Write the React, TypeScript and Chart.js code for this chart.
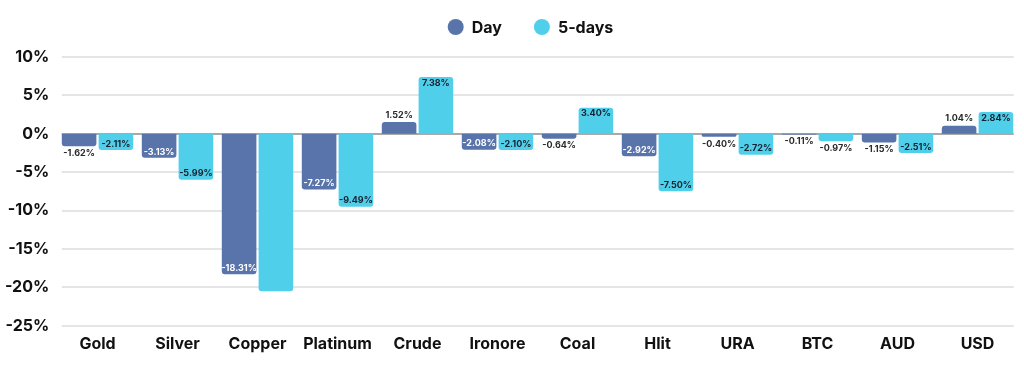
import React, { useEffect, useRef } from 'react';
import { Chart, registerables } from 'chart.js';

Chart.register(...registerables);

const categories = ['Gold', 'Silver', 'Copper', 'Platinum', 'Crude', 'Ironore', 'Coal', 'Hlit', 'URA', 'BTC', 'AUD', 'USD'];
const seriesNames = ['Day', '5-days'];
const dayValues = [-1.62, -3.13, -18.31, -7.27, 1.52, -2.08, -0.64, -2.92, -0.4, -0.11, -1.15, 1.04];
const fiveDayValues = [-2.11, -5.99, -20.5, -9.49, 7.38, -2.1, 3.4, -7.5, -2.72, -0.97, -2.51, 2.84];
const yMin = -25;
const yMax = 10;
const yStep = 5;
// value labels that are not shown in the reference: [datasetIndex, index]
const hiddenLabels = [[1, 2]];

const DAY_COLOR = '#5974aa';
const FIVE_COLOR = '#50cfea';
const FONT = 'Inter, "Open Sans", sans-serif';

const gridPlugin = {
  id: 'customGrid',
  beforeDatasetsDraw(chart: any) {
    const { ctx, chartArea, scales } = chart;
    const ys = scales.y;
    ctx.save();
    ys.ticks.forEach((t: any) => {
      const y = Math.round(ys.getPixelForValue(t.value));
      ctx.beginPath();
      ctx.strokeStyle = t.value === 0 ? '#a9a9a9' : '#dcdcdc';
      ctx.lineWidth = t.value === 0 ? 2 : 1.5;
      ctx.moveTo(chartArea.left + 4.3, y);
      ctx.lineTo(chartArea.right - 3.8, y);
      ctx.stroke();
    });
    ctx.restore();
  },
};

const valueLabelPlugin = {
  id: 'valueLabels',
  afterDatasetsDraw(chart: any) {
    const { ctx } = chart;
    ctx.save();
    ctx.font = `bold 9px ${FONT}`;
    ctx.textAlign = 'center';
    ctx.textBaseline = 'middle';
    chart.data.datasets.forEach((ds: any, di: number) => {
      const meta = chart.getDatasetMeta(di);
      meta.data.forEach((bar: any, i: number) => {
        if (hiddenLabels.some(([d, k]) => d === di && k === i)) return;
        const v = ds.data[i] as number;
        const dir = v < 0 ? 1 : -1;
        const inside = Math.abs(v) >= 2;
        const y = inside ? bar.y - dir * 6 : bar.y + dir * 7;
        ctx.fillStyle = inside ? (di === 0 ? '#ffffff' : '#16202e') : '#2a2a2a';
        ctx.fillText(`${v.toFixed(2)}%`, bar.x, y);
      });
    });
    ctx.restore();
  },
};

const legendPlugin = {
  id: 'customLegend',
  afterDraw(chart: any) {
    const { ctx, chartArea } = chart;
    const datasets = chart.data.datasets;
    ctx.save();
    ctx.font = `bold 16px ${FONT}`;
    ctx.textBaseline = 'middle';
    ctx.textAlign = 'left';
    const r = 8;
    const gapText = 8;
    const gapItem = 32;
    const widths = datasets.map((d: any) => 2 * r + gapText + ctx.measureText(d.label).width);
    const total = widths.reduce((a: number, b: number) => a + b, 0) + gapItem * (datasets.length - 1);
    let x = (chartArea.left + chartArea.right) / 2 - 7 - total / 2;
    const y = 27;
    datasets.forEach((d: any, i: number) => {
      ctx.beginPath();
      ctx.fillStyle = d.backgroundColor;
      ctx.arc(x + r, y, r, 0, Math.PI * 2);
      ctx.fill();
      ctx.fillStyle = '#111111';
      ctx.fillText(d.label, x + 2 * r + gapText, y + 1);
      x += widths[i] + gapItem;
    });
    ctx.restore();
  },
};

export default function App() {
  const ref = useRef<HTMLCanvasElement>(null);
  useEffect(() => {
    if (!ref.current) return;
    Chart.defaults.font.family = FONT;
    const chart = new Chart(ref.current, {
      type: 'bar',
      data: {
        labels: categories,
        datasets: [
          {
            label: seriesNames[0],
            data: dayValues,
            backgroundColor: DAY_COLOR,
            borderRadius: 3,
            categoryPercentage: 0.92,
            barPercentage: 0.94,
          },
          {
            label: seriesNames[1],
            data: fiveDayValues,
            backgroundColor: FIVE_COLOR,
            borderRadius: 3,
            categoryPercentage: 0.92,
            barPercentage: 0.94,
          },
        ],
      },
      options: {
        responsive: false,
        animation: false,
        devicePixelRatio: 1,
        layout: { padding: { top: 57, right: 6.5, bottom: 0, left: 0 } },
        plugins: {
          legend: { display: false },
          tooltip: { enabled: false },
        },
        scales: {
          x: {
            grid: { display: false, drawTicks: false },
            border: { display: false },
            ticks: {
              padding: 8.5,
              color: '#111111',
              font: { family: FONT, size: 16, weight: 'bold' },
              maxRotation: 0,
              autoSkip: false,
            },
            afterFit: (s: any) => {
              s.height = 41.3;
            },
          },
          y: {
            min: yMin,
            max: yMax,
            grid: { display: false, drawTicks: false },
            border: { display: false },
            ticks: {
              stepSize: yStep,
              padding: 8.3,
              color: '#111111',
              font: { family: FONT, size: 16, weight: 'bold' },
              callback: (v: any) => `${v}%`,
            },
            afterFit: (s: any) => {
              s.width = 57.5;
            },
          },
        },
      },
      plugins: [gridPlugin, valueLabelPlugin, legendPlugin],
    });
    return () => chart.destroy();
  }, []);
  return (
    <div style={{ position: 'absolute', left: 0, top: 0, width: 1024, height: 367, background: '#ffffff' }}>
      <canvas ref={ref} width={1024} height={367} style={{ display: 'block' }} />
    </div>
  );
}
